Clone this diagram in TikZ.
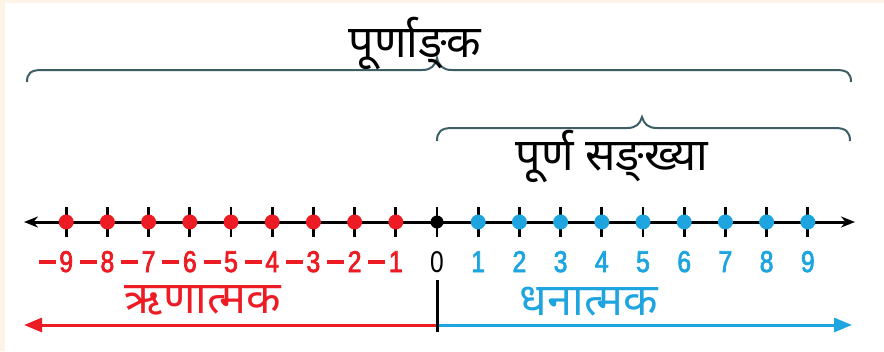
\documentclass[tikz,border=0pt]{standalone}
\usepackage{fontspec}
\setmainfont{Liberation Sans}
\newfontfamily\deva[Script=Devanagari]{Noto Sans}
\newfontfamily\digitfont[FakeStretch=0.82,FakeBold=2.5]{Liberation Sans}
\usetikzlibrary{arrows.meta}
\definecolor{cream}{HTML}{FDF3E6}
\definecolor{negred}{HTML}{ED1C24}
\definecolor{posblue}{HTML}{1EA5DF}
\definecolor{bracecol}{HTML}{3E5E66}
\newcommand{\negsign}{\llap{\rule[8.4pt]{17pt}{3.6pt}\hspace{3.5pt}}}
\tikzset{
  numlbl/.style={font=\digitfont\fontsize{30}{32}\selectfont, inner sep=0pt, anchor=base},
  devalbl/.style={font=\deva\fontsize{45}{48}\selectfont, inner sep=0pt, anchor=base},
  dotmark/.style={circle, minimum size=15pt, inner sep=0pt},
  bracestyle/.style={draw=bracecol, line width=2pt},
  tickline/.style={line width=2.8pt, black},
}
\begin{document}
\begin{tikzpicture}[x=1pt,y=-1pt]
\fill[cream] (0,0) rectangle (884,351);
\fill[white] (5,3) rectangle (884,351);
\useasboundingbox (0,0) rectangle (884,351);
% number line
\coordinate (axL) at (24,222);
\coordinate (axR) at (855,222);
\draw[line width=3pt, {Stealth[length=14pt,width=11pt]}-{Stealth[length=14pt,width=11pt]}] (axL) -- (axR);
\foreach \i in {-9,...,9}{
  \pgfmathsetmacro{\xx}{437+41.2*\i}
  \coordinate (t\i a) at (\xx,207);
  \coordinate (t\i b) at (\xx,237);
  \draw[tickline] (t\i a) -- (t\i b);
}
\foreach \i in {-9,...,-1}{
  \pgfmathsetmacro{\xx}{437+41.2*\i}
  \node[dotmark, fill=negred] (d\i) at (\xx,222) {};
  \node[numlbl, text=negred] (n\i) at (\xx,272) {\negsign\the\numexpr-\i\relax};
}
\foreach \i in {1,...,9}{
  \pgfmathsetmacro{\xx}{437+41.2*\i}
  \node[dotmark, fill=posblue] (d\i) at (\xx,222) {};
  \node[numlbl, text=posblue] (n\i) at (\xx,272) {\i};
}
\node[dotmark, fill=black, minimum size=13pt] (d0) at (437,222) {};
\node[numlbl, text=black, font=\fontsize{30}{32}\selectfont\addfontfeatures{FakeStretch=0.82}] (n0) at (437,272) {0};
% braces
\draw[bracestyle] (27,82) .. controls (27,73) and (31,70) .. (42,70) -- (422,70)
  .. controls (431,70) and (435,66) .. (437,58) .. controls (439,66) and (443,70) .. (452,70)
  -- (836,70) .. controls (847,70) and (851,73) .. (851,82);
\draw[bracestyle] (437,141) .. controls (437,132) and (441,128) .. (452,128) -- (627,128)
  .. controls (636,128) and (640,124) .. (642,117) .. controls (644,124) and (648,128) .. (657,128)
  -- (835,128) .. controls (846,128) and (850,132) .. (850,141);
\node[devalbl] (whole) at (415,57) {पूर्णाङ्‌क};
\node[devalbl] (natural) at (612,170) {पूर्ण सङ्‌ख्या};
% sign arrows
\coordinate (zb) at (437,325);
\coordinate (negend) at (24,325);
\coordinate (posend) at (852,325);
\draw[negred, line width=3pt, -{Triangle[length=18pt,width=14pt]}] (zb) -- (negend);
\draw[posblue, line width=3pt, -{Triangle[length=18pt,width=14pt]}] (zb) -- (posend);
\coordinate (zt) at (437,280);
\coordinate (zbb) at (437,332);
\draw[line width=3pt, black] (zt) -- (zbb);
\node[devalbl, text=negred] (neg) at (203,313) {ऋणात्मक};
\node[devalbl, text=posblue] (pos) at (589,315) {धनात्मक};
\end{tikzpicture}
\end{document}
